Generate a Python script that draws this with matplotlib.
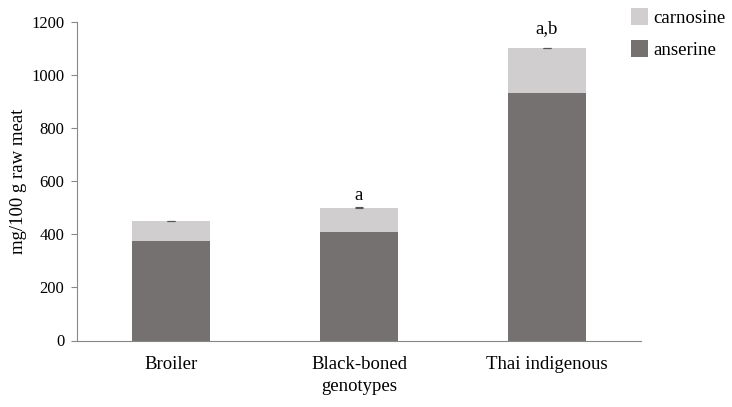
import matplotlib
matplotlib.use("Agg")
import matplotlib.pyplot as plt

categories = ["Broiler", "Black-boned", "Thai indigenous"]
anserine = [376, 407, 932]
carnosine = [74, 94, 170]
total_err = [1, 1.5, 1.5]
sig_labels = ["", "a", "a,b"]

plt.rcParams['font.family'] = ['Liberation Serif', 'DejaVu Serif']
FS = 13.5
FS_Y = 12

fig = plt.figure(figsize=(7.32, 4.07), dpi=100)
ax = fig.add_axes([77/732, (407-340.5)/407, (641-77)/732, (340.5-22)/407])

x = list(range(len(categories)))
c_an = "#767171"
c_ca = "#d0cece"
w = 0.41
ax.bar(x, anserine, width=w, color=c_an, label="anserine", zorder=2)
totals = [a + c for a, c in zip(anserine, carnosine)]
ax.bar(x, carnosine, width=w, bottom=anserine, color=c_ca, label="carnosine", zorder=2)
ax.errorbar(x, totals, yerr=total_err, fmt="none", ecolor="#555555", elinewidth=0.8, capsize=3, capthick=0.8, zorder=3)
label_gap = [0, 30, 56]
for xi, t, s, g in zip(x, totals, sig_labels, label_gap):
    if s:
        ax.text(xi, t + g, s, ha="center", va="baseline", fontsize=FS)

ax.set_xlim(-0.5, 2.5)
ax.set_ylim(0, 1200)
ax.set_yticks(range(0, 1201, 200))
ax.set_xticks(x)
ax.set_xticklabels(categories, fontsize=FS)
ax.tick_params(axis="x", length=0, pad=11)
ax.tick_params(axis="y", labelsize=FS_Y, length=4, color="#888888", width=0.8, direction="out", pad=5)
ax.set_ylabel("mg/100 g raw meat", fontsize=FS)
ax.yaxis.set_label_coords((27 - 77) / 564, 0.5)
ax.set_xlabel("genotypes", fontsize=FS, labelpad=4)
for s in ["top", "right"]:
    ax.spines[s].set_visible(False)
for s in ["left", "bottom"]:
    ax.spines[s].set_color("#888888")
    ax.spines[s].set_linewidth(0.8)

handles, labels = ax.get_legend_handles_labels()
leg = fig.legend(handles[::-1], labels[::-1], loc="upper left", bbox_to_anchor=(623/732, 1.0),
                 frameon=False, fontsize=FS, handlelength=0.9, handleheight=0.95,
                 handletextpad=0.25, labelspacing=0.72, borderaxespad=0.1, borderpad=0.35)

fig.savefig("out.png", dpi=100)
